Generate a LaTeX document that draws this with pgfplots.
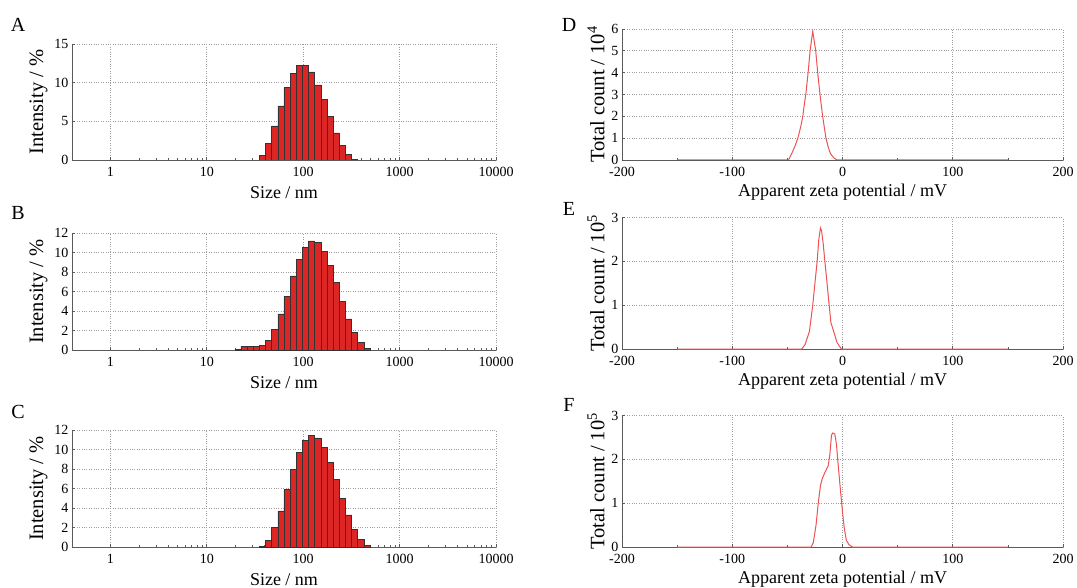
\documentclass[border=0pt]{standalone}
\usepackage{fontspec}
\setmainfont{Liberation Serif}
\usepackage{pgfplots}
\pgfplotsset{compat=1.18}

\definecolor{barred}{RGB}{220,38,38}
\definecolor{zetared}{RGB}{238,82,82}
\definecolor{axgray}{RGB}{90,90,90}

\pgfplotsset{
  mypanel/.style={
    scale only axis, anchor=south west,
    axis x line*=bottom, axis y line*=left,
    axis line style={-, draw=axgray, line width=0.9pt},
    grid=major, major grid style={dotted, gray!75, line width=0.7pt},
    tick style={axgray, line width=0.7pt},
    major tick length=3pt, minor tick length=2pt,
    ymin=0,
    xticklabel shift=4pt,
    ticklabel style={font=\fontsize{14}{16}\selectfont},
    xlabel style={font=\fontsize{18}{20}\selectfont},
    ylabel style={font=\fontsize{20.5}{22}\selectfont},
  },
  mysize/.style={mypanel, width=424pt, xmin=0.4, xmax=10000,
    xtick={1,10,100,1000,10000}, xticklabels={1,10,100,1000,10000},
    xlabel={Size / nm}, ylabel={Intensity / \%},
    xlabel style={yshift=-2.5pt}},
  myzeta/.style={mypanel, width=441pt, xmin=-200, xmax=200,
    xtick={-200,-100,0,100,200}, minor x tick num=1,
    xlabel={Apparent zeta potential / mV}},
  mybars/.style={fill=barred, draw=black!80, line width=0.6pt},
  mycurve/.style={zetared, line width=1pt, mark=none},
}

\begin{document}
\begin{tikzpicture}
\useasboundingbox (0pt,0pt) rectangle (1077pt,-588pt);

% A
\begin{axis}[xmode=log, mysize, at={(72pt,-160pt)}, height=116pt, ymax=15, ytick={0,5,10,15},
  /pgf/number format/assume math mode=true]
\addplot[ybar interval, mybars] coordinates {
(35.16,0.6)(40.72,2.1)(47.16,4.4)(54.61,7.0)(63.24,9.4)(73.24,11.2)(84.82,12.2)(98.22,12.2)
(113.7,11.4)(131.8,9.7)(152.6,7.8)(176.6,5.6)(204.6,3.5)(237.0,1.9)(274.4,0.7)(317.8,0.1)(368.1,0)};
\end{axis}

% B
\begin{axis}[xmode=log, mysize, at={(72pt,-350pt)}, height=117pt, ymax=12, ytick={0,2,...,12},
  /pgf/number format/assume math mode=true]
\addplot[ybar interval, mybars] coordinates {
(19.55,0.1)(22.64,0.35)(26.21,0.4)(30.36,0.4)(35.16,0.5)(40.72,1.0)(47.16,2.1)(54.61,3.7)
(63.24,5.5)(73.24,7.6)(84.82,9.3)(98.22,10.5)(113.7,11.2)(131.8,11.0)(152.6,10.1)(176.6,8.7)
(204.6,6.9)(237.0,5.0)(274.4,3.2)(317.8,1.8)(368.1,0.75)(426.2,0.15)(493.6,0)};
\end{axis}

% C
\begin{axis}[xmode=log, mysize, at={(72pt,-547pt)}, height=117pt, ymax=12, ytick={0,2,...,12},
  /pgf/number format/assume math mode=true]
\addplot[ybar interval, mybars] coordinates {
(35.16,0.1)(40.72,0.7)(47.16,2.0)(54.61,3.7)(63.24,5.9)(73.24,8.0)(84.82,9.7)(98.22,10.9)
(113.7,11.45)(131.8,11.2)(152.6,10.2)(176.6,8.7)(204.6,6.9)(237.0,5.0)(274.4,3.3)(317.8,1.8)
(368.1,0.75)(426.2,0.15)(493.6,0)};
\end{axis}

% D
\begin{axis}[myzeta, at={(622pt,-160pt)}, height=131pt, ymax=6, ytick={0,...,6},
  ylabel={Total count / 10\textsuperscript{4}}, /pgf/number format/assume math mode=true]
\addplot[mycurve] coordinates {
(-150,0)(-49,0)(-46,0.3)(-43,0.65)(-40.5,1.0)(-38,1.5)(-36,2.0)(-34.5,2.6)(-33.3,3.0)
(-31.2,4.0)(-29.4,5.0)(-27,5.9)(-24.3,5.0)(-22.5,4.0)(-20.4,3.0)(-18,2.0)(-15,1.0)
(-13,0.6)(-11,0.3)(-8,0.1)(-5,0)(150,0)};
\end{axis}

% E
\begin{axis}[myzeta, at={(622pt,-349pt)}, height=131.5pt, ymax=3, ytick={0,1,2,3},
  ylabel={Total count / 10\textsuperscript{5}}, /pgf/number format/assume math mode=true]
\addplot[mycurve] coordinates {
(-150,0)(-37,0)(-34,0.1)(-30,0.4)(-27,1.0)(-25,1.5)(-23,2.0)(-21.5,2.5)(-20,2.76)
(-19,2.7)(-17.5,2.4)(-16,2.0)(-14,1.5)(-12.5,1.1)(-10.5,0.6)(-8,0.4)(-5,0.15)(-1,0)(150,0)};
\end{axis}

% F
\begin{axis}[myzeta, at={(622pt,-547pt)}, height=131.5pt, ymax=3, ytick={0,1,2,3},
  ylabel={Total count / 10\textsuperscript{5}}, /pgf/number format/assume math mode=true]
\addplot[mycurve] coordinates {
(-150,0)(-28.5,0)(-26.5,0.1)(-24,0.5)(-22,1.0)(-20,1.4)(-18.5,1.55)(-16,1.7)(-13,1.85)
(-11.5,2.1)(-10,2.55)(-9,2.6)(-7,2.58)(-5.5,2.35)(-3.5,1.75)(-1.5,1.2)(0,0.8)(1.5,0.45)
(3.5,0.15)(6,0.05)(9,0)(150,0)};
\end{axis}

% panel letters
\begin{scope}[font=\fontsize{20}{22}\selectfont]
\node at (18pt,-25pt) {A};
\node at (18pt,-213pt) {B};
\node at (18pt,-412pt) {C};
\node at (569pt,-25pt) {D};
\node at (569pt,-209pt) {E};
\node at (569pt,-405pt) {F};
\end{scope}
\end{tikzpicture}
\end{document}
